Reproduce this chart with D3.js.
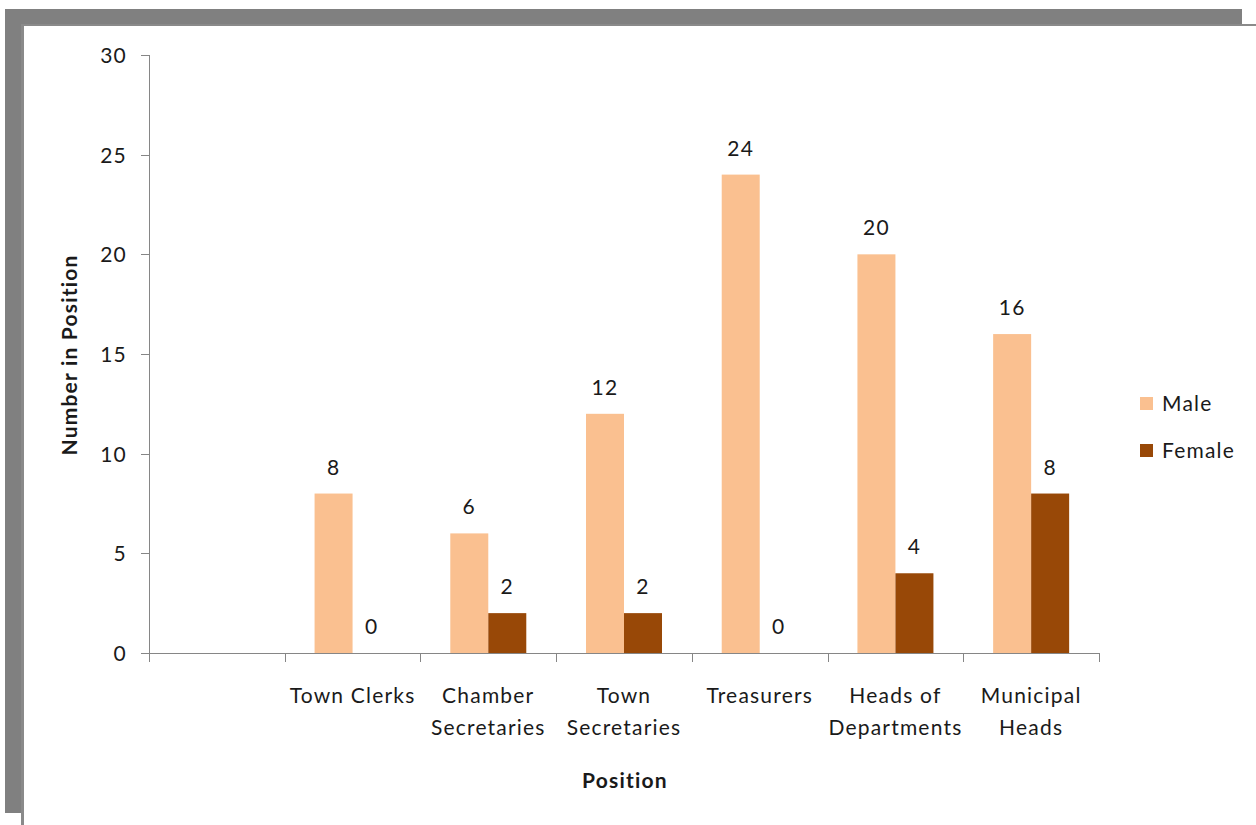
<!DOCTYPE html>
<html><head><meta charset="utf-8">
<script src="https://cdn.jsdelivr.net/npm/d3@7"></script>
<style>body{margin:0;background:#fff}svg{display:block}text{font-family:Lato,"Open Sans",sans-serif;fill:#1a1a1a;letter-spacing:1.2px}</style>
</head><body><svg id="c" width="1256" height="825"></svg>
<script>
const categories = ["", "Town Clerks", "Chamber Secretaries", "Town Secretaries", "Treasurers", "Heads of Departments", "Municipal Heads"];
const categoryLines = [[], ["Town Clerks"], ["Chamber", "Secretaries"], ["Town", "Secretaries"], ["Treasurers"], ["Heads of", "Departments"], ["Municipal", "Heads"]];
const maleValues = [null, 8, 6, 12, 24, 20, 16];
const femaleValues = [null, 0, 2, 2, 0, 4, 8];
const yTicks = [0, 5, 10, 15, 20, 25, 30];
const seriesNames = ["Male", "Female"];
const colors = ["#FAC090", "#984807"];

const svg = d3.select("#c");
// frame
svg.append("rect").attr("x",5).attr("y",9).attr("width",1237).attr("height",15).attr("fill","#808080");
svg.append("rect").attr("x",5).attr("y",9).attr("width",16).attr("height",804).attr("fill","#808080");
svg.append("rect").attr("x",21).attr("y",24).attr("width",3).attr("height",801).attr("fill","#8a8a8a");
svg.append("rect").attr("x",21).attr("y",24).attr("width",1235).attr("height",2).attr("fill","#8a8a8a");

const x = d3.scaleBand().domain(categories).range([149, 1099]).padding(0);
const y = d3.scaleLinear().domain([0, 30]).range([653, 55]);
const bw = 38;
const fs = 21;

// y axis
svg.append("line").attr("x1",149.5).attr("x2",149.5).attr("y1",y(30)).attr("y2",y(0)).attr("stroke","#868686");
yTicks.forEach(t=>{
  svg.append("line").attr("x1",141).attr("x2",149).attr("y1",Math.round(y(t))+0.5).attr("y2",Math.round(y(t))+0.5).attr("stroke","#868686");
  svg.append("text").attr("x",127).attr("y",y(t)+8).attr("text-anchor","end").attr("font-size",fs).text(t);
});
// x axis
svg.append("line").attr("x1",149).attr("x2",1099).attr("y1",653.5).attr("y2",653.5).attr("stroke","#868686");
const bounds = categories.map(c=>x(c)).concat([1099]);
bounds.forEach(b=>{
  svg.append("line").attr("x1",Math.round(b)+0.5).attr("x2",Math.round(b)+0.5).attr("y1",653).attr("y2",662).attr("stroke","#868686");
});
categories.forEach((c,i)=>{
  const cx = x(c)+x.bandwidth()/2;
  categoryLines[i].forEach((l,j)=>{
    svg.append("text").attr("x",cx).attr("y",703+j*32).attr("text-anchor","middle").attr("font-size",fs).text(l);
  });
});
// bars
[maleValues, femaleValues].forEach((vals,s)=>{
  categories.forEach((c,i)=>{
    const v = vals[i];
    if(v===null) return;
    const cx = x(c)+x.bandwidth()/2;
    const bx = s===0 ? cx-bw : cx;
    svg.append("rect").attr("x",bx).attr("y",y(v)).attr("width",bw).attr("height",y(0)-y(v)).attr("fill",colors[s]);
    svg.append("text").attr("x",bx+bw/2).attr("y",y(v)-19).attr("text-anchor","middle").attr("font-size",fs).text(v);
  });
});
// axis titles
svg.append("text").attr("transform","translate(77,355) rotate(-90)").attr("text-anchor","middle").attr("font-size",fs).attr("font-weight","bold").text("Number in Position");
svg.append("text").attr("x",625).attr("y",788).attr("text-anchor","middle").attr("font-size",fs).attr("font-weight","bold").text("Position");
// legend
seriesNames.forEach((n,i)=>{
  svg.append("rect").attr("x",1140).attr("y",397+i*47).attr("width",13).attr("height",13).attr("fill",colors[i]);
  svg.append("text").attr("x",1162).attr("y",411+i*47).attr("font-size",fs).text(n);
});
</script></body></html>
